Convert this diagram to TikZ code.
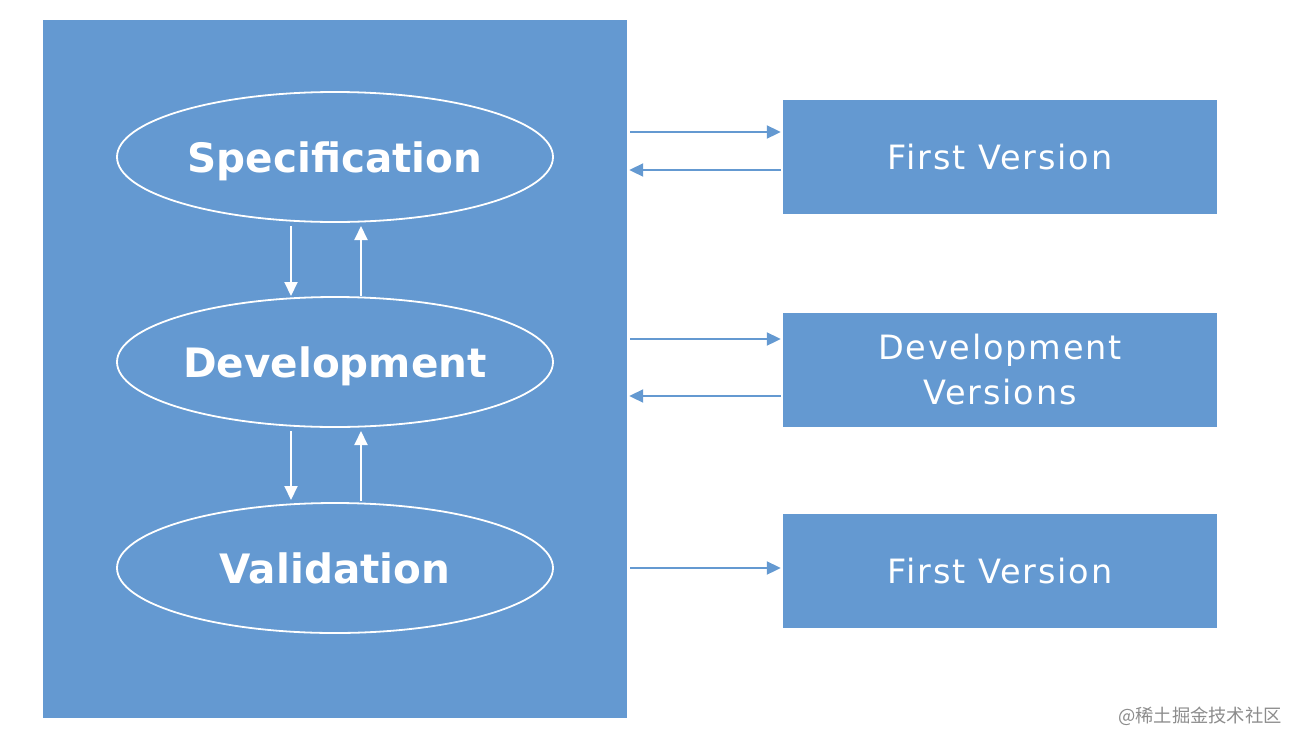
\documentclass[tikz,border=0pt]{standalone}
\usepackage{fontspec}
\setmainfont{DejaVu Sans}
\newfontfamily\cjk{Noto Sans CJK SC}
\newfontfamily\wide[LetterSpace=5.5]{DejaVu Sans}
\usetikzlibrary{shapes.geometric,arrows.meta}
\definecolor{mblue}{RGB}{100,153,209}
\tikzset{
  stage/.style={ellipse,draw=white,line width=1.8pt,minimum width=436pt,minimum height=130pt,inner sep=0pt,text depth=0pt,text=white,font=\bfseries\fontsize{40.5}{48}\selectfont},
  outbox/.style={rectangle,fill=mblue,minimum width=434pt,minimum height=114pt,inner sep=0pt,text=white,align=center,font=\wide\fontsize{33.5}{45}\selectfont},
  inarr/.style={draw=white,line width=2pt,-{Triangle[length=14pt,width=13pt]}},
  outarr/.style={draw=mblue,line width=2pt,-{Triangle[length=14pt,width=13pt]}},
}
\begin{document}
\begin{tikzpicture}[x=1pt,y=-1pt]
\useasboundingbox (0,0) rectangle (1316,742);
\node[rectangle,fill=mblue,minimum width=584pt,minimum height=698pt,inner sep=0pt] (main) at (335,369) {};
\node[stage] (spec) at (335,157) {Specification};
\node[stage] (dev) at (335,362) {Development};
\node[stage] (val) at (335,568) {Validation};
\node[outbox] (b1) at (1000,157) {First Version};
\node[outbox] (b2) at (1000,370) {Development\\Versions};
\node[outbox] (b3) at (1000,571) {First Version};
% inner arrows
\coordinate (s1) at (291,226); \coordinate (d1) at (291,296);
\coordinate (s2) at (361,226); \coordinate (d2) at (361,296);
\coordinate (d3) at (291,431); \coordinate (v1) at (291,500);
\coordinate (d4) at (361,431); \coordinate (v2) at (361,501);
\draw[inarr] (s1) -- (d1);
\draw[inarr] (d2) -- (s2);
\draw[inarr] (d3) -- (v1);
\draw[inarr] (v2) -- (d4);
% outer arrows
\draw[outarr,shorten <=3pt,shorten >=2pt] (main.east |- 0,132) -- (b1.west |- 0,132);
\draw[outarr,shorten <=2pt,shorten >=2pt] (b1.west |- 0,170) -- (main.east |- 0,170);
\draw[outarr,shorten <=3pt,shorten >=2pt] (main.east |- 0,339) -- (b2.west |- 0,339);
\draw[outarr,shorten <=2pt,shorten >=2pt] (b2.west |- 0,396) -- (main.east |- 0,396);
\draw[outarr,shorten <=3pt,shorten >=2pt] (main.east |- 0,568) -- (b3.west |- 0,568);
\node[text=black!45,font=\cjk\fontsize{18.3}{22}\selectfont,anchor=east,inner sep=0pt] (wm) at (1282,716) {@稀土掘金技术社区};
\end{tikzpicture}
\end{document}
